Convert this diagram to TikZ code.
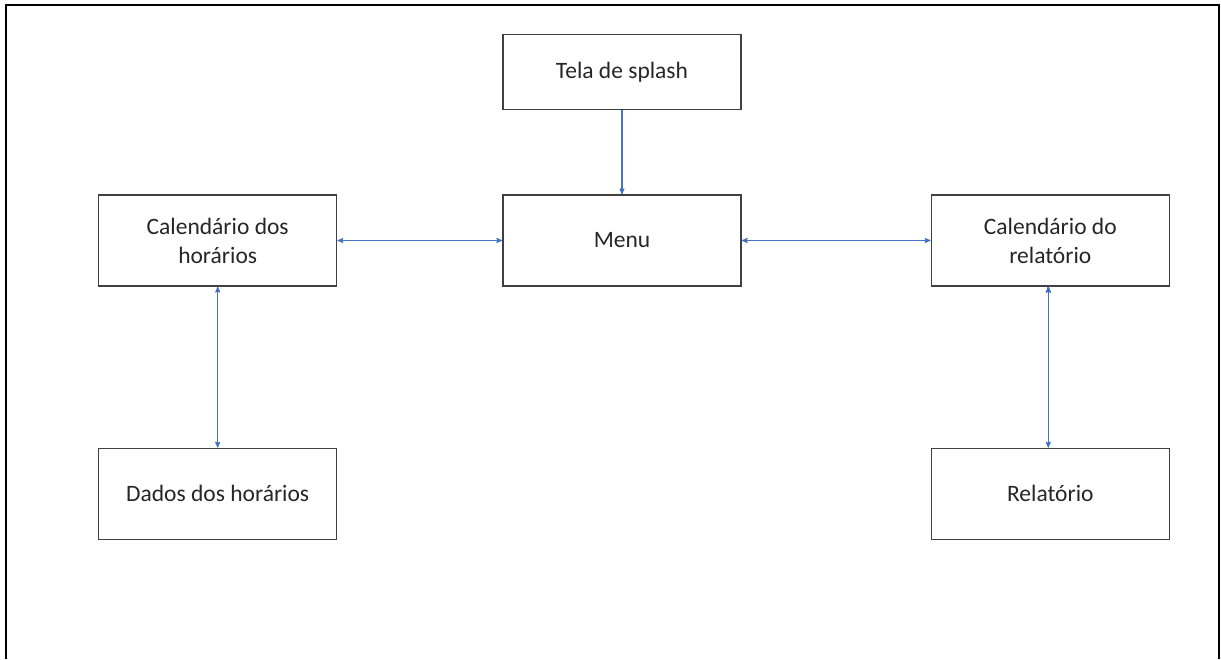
\documentclass[tikz,border=0pt]{standalone}
\usepackage{fontspec}
\setmainfont{Carlito}
\usetikzlibrary{arrows,positioning}

\begin{document}
\begin{tikzpicture}[ >=stealth', semithick, node distance=84pt]
	\tikzstyle{every node}=[font=\fontsize{23.5}{29}\selectfont, text=black!85]
	\tikzstyle{tela}=[draw=black!75, line width=1.3pt, minimum width=238pt, minimum height=91pt, align=center, inner sep=0pt]
	\tikzstyle{liga}=[<->, draw={rgb,255:red,68;green,114;blue,196}, line width=1.1pt]
	\useasboundingbox (0pt,0pt) rectangle (1221pt,-659pt);
	\draw[line width=2.6pt] (6pt,-659pt) -- (6pt,-5pt) -- (1219pt,-5pt) -- (1219pt,-659pt);
	\node[tela]    (menu) at (622pt,-240.5pt)   {Menu};
	\node[tela, minimum height=75pt]    (splash)[above=84pt of menu]   {Tela de splash};
	\node[tela]    (calhor)[left=165pt of menu]   {Calendário dos\\horários};
	\node[tela]    (calrel)[right=189pt of menu]   {Calendário do\\relatório};
	\node[tela]    (dados)[below=161pt of calhor]   {Dados dos horários};
	\node[tela]    (relat)[below=161pt of calrel]   {Relatório};
	\path[liga]
	(splash)	edge[<-, ->]	(menu)
	(menu)	edge	(calhor)
	(menu)	edge	(calrel)
	(calhor)	edge	(dados)
	([xshift=-2pt]calrel.south)	edge	([xshift=-2pt]relat.north);
\end{tikzpicture}
\end{document}
